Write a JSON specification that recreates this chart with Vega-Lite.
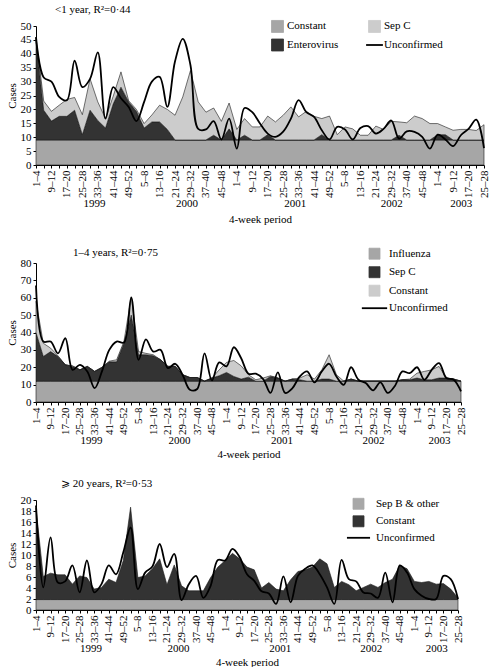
{
  "$schema": "https://vega.github.io/schema/vega-lite/v6.json",
  "padding": {"left": 6, "top": 4, "right": 0, "bottom": 0},
  "background": "white",
  "bounds": "flush",
  "spacing": 98,
  "datasets": {
    "p1": [
      {"t":0,"Constant":9,"Enterovirus":36,"Sep C":1,"Unconfirmed":46},
      {"t":1,"Constant":9,"Enterovirus":10.7,"Sep C":3.3,"Unconfirmed":31.5},
      {"t":2,"Constant":9,"Enterovirus":6.8,"Sep C":3.5,"Unconfirmed":30},
      {"t":3,"Constant":9,"Enterovirus":8.5,"Sep C":4,"Unconfirmed":24.5},
      {"t":4,"Constant":9,"Enterovirus":8.5,"Sep C":6.1,"Unconfirmed":23.3},
      {"t":5,"Constant":9,"Enterovirus":10.7,"Sep C":4.6,"Unconfirmed":37.5},
      {"t":6,"Constant":9,"Enterovirus":1.9,"Sep C":7.2,"Unconfirmed":28},
      {"t":7,"Constant":9,"Enterovirus":10.7,"Sep C":11.3,"Unconfirmed":31},
      {"t":8,"Constant":9,"Enterovirus":7,"Sep C":6.7,"Unconfirmed":40.5},
      {"t":9,"Constant":9,"Enterovirus":4.3,"Sep C":3.4,"Unconfirmed":16.7},
      {"t":10,"Constant":9,"Enterovirus":13,"Sep C":2.8,"Unconfirmed":28},
      {"t":11,"Constant":9,"Enterovirus":19,"Sep C":5.5,"Unconfirmed":24},
      {"t":12,"Constant":9,"Enterovirus":13.7,"Sep C":0.4,"Unconfirmed":20.9},
      {"t":13,"Constant":9,"Enterovirus":10.3,"Sep C":0.7,"Unconfirmed":15.8},
      {"t":14,"Constant":9,"Enterovirus":4.3,"Sep C":1.6,"Unconfirmed":22.7},
      {"t":15,"Constant":9,"Enterovirus":6.5,"Sep C":2.5,"Unconfirmed":30},
      {"t":16,"Constant":9,"Enterovirus":6.5,"Sep C":6,"Unconfirmed":31.7},
      {"t":17,"Constant":9,"Enterovirus":3.8,"Sep C":7.2,"Unconfirmed":20.9},
      {"t":18,"Constant":9,"Enterovirus":0,"Sep C":8.9,"Unconfirmed":37.3},
      {"t":19,"Constant":9,"Enterovirus":0,"Sep C":15.5,"Unconfirmed":45.4},
      {"t":20,"Constant":9,"Enterovirus":0,"Sep C":25,"Unconfirmed":35.9},
      {"t":21,"Constant":9,"Enterovirus":0,"Sep C":13.7,"Unconfirmed":13},
      {"t":22,"Constant":9,"Enterovirus":0,"Sep C":10,"Unconfirmed":12.8},
      {"t":23,"Constant":9,"Enterovirus":1.7,"Sep C":9.8,"Unconfirmed":15.8},
      {"t":24,"Constant":9,"Enterovirus":0,"Sep C":6.7,"Unconfirmed":9.2},
      {"t":25,"Constant":9,"Enterovirus":4,"Sep C":9.3,"Unconfirmed":16.7},
      {"t":26,"Constant":9,"Enterovirus":0,"Sep C":3.8,"Unconfirmed":5.9},
      {"t":27,"Constant":9,"Enterovirus":1.7,"Sep C":6,"Unconfirmed":20.5},
      {"t":28,"Constant":9,"Enterovirus":0,"Sep C":4.7,"Unconfirmed":19},
      {"t":29,"Constant":9,"Enterovirus":0,"Sep C":4.7,"Unconfirmed":14.9},
      {"t":30,"Constant":9,"Enterovirus":1.9,"Sep C":6.7,"Unconfirmed":11.3},
      {"t":31,"Constant":9,"Enterovirus":0,"Sep C":6.5,"Unconfirmed":10.1},
      {"t":32,"Constant":9,"Enterovirus":0,"Sep C":8.9,"Unconfirmed":12},
      {"t":33,"Constant":9,"Enterovirus":0,"Sep C":11.9,"Unconfirmed":16.7},
      {"t":34,"Constant":9,"Enterovirus":0,"Sep C":8.3,"Unconfirmed":23.3},
      {"t":35,"Constant":9,"Enterovirus":0,"Sep C":10.3,"Unconfirmed":19},
      {"t":36,"Constant":9,"Enterovirus":0,"Sep C":8.5,"Unconfirmed":17.3},
      {"t":37,"Constant":9,"Enterovirus":1.9,"Sep C":5.8,"Unconfirmed":12.5},
      {"t":38,"Constant":9,"Enterovirus":0,"Sep C":8.6,"Unconfirmed":9.2},
      {"t":39,"Constant":9,"Enterovirus":0,"Sep C":1.9,"Unconfirmed":13.7},
      {"t":40,"Constant":9,"Enterovirus":0,"Sep C":4.7,"Unconfirmed":12.8},
      {"t":41,"Constant":9,"Enterovirus":0,"Sep C":4,"Unconfirmed":9.2},
      {"t":42,"Constant":9,"Enterovirus":0,"Sep C":1.7,"Unconfirmed":13.3},
      {"t":43,"Constant":9,"Enterovirus":0,"Sep C":1.7,"Unconfirmed":14},
      {"t":44,"Constant":9,"Enterovirus":0,"Sep C":5,"Unconfirmed":11.3},
      {"t":45,"Constant":9,"Enterovirus":0,"Sep C":3.8,"Unconfirmed":13},
      {"t":46,"Constant":9,"Enterovirus":0,"Sep C":6.7,"Unconfirmed":16},
      {"t":47,"Constant":9,"Enterovirus":1.7,"Sep C":4.8,"Unconfirmed":9.5},
      {"t":48,"Constant":9,"Enterovirus":0,"Sep C":6.2,"Unconfirmed":12.1},
      {"t":49,"Constant":9,"Enterovirus":0,"Sep C":8.6,"Unconfirmed":11.9},
      {"t":50,"Constant":9,"Enterovirus":0,"Sep C":7.7,"Unconfirmed":10.1},
      {"t":51,"Constant":9,"Enterovirus":0,"Sep C":5.9,"Unconfirmed":5.9},
      {"t":52,"Constant":9,"Enterovirus":1.9,"Sep C":4,"Unconfirmed":10.9},
      {"t":53,"Constant":9,"Enterovirus":1.9,"Sep C":2.8,"Unconfirmed":9.2},
      {"t":54,"Constant":9,"Enterovirus":0,"Sep C":3.5,"Unconfirmed":6.8},
      {"t":55,"Constant":9,"Enterovirus":0,"Sep C":3.8,"Unconfirmed":10.7},
      {"t":56,"Constant":9,"Enterovirus":0,"Sep C":3.8,"Unconfirmed":13},
      {"t":57,"Constant":9,"Enterovirus":0,"Sep C":3.4,"Unconfirmed":16.3},
      {"t":58,"Constant":9,"Enterovirus":0,"Sep C":5.5,"Unconfirmed":6.1}
    ],
    "p2": [
      {"t":0,"Influenza":12,"Sep C":28,"Constant":18,"Unconfirmed":67},
      {"t":1,"Influenza":12,"Sep C":14.2,"Constant":7.6,"Unconfirmed":34.8},
      {"t":2,"Influenza":12,"Sep C":17,"Constant":2,"Unconfirmed":34.8},
      {"t":3,"Influenza":12,"Sep C":14.2,"Constant":0.4,"Unconfirmed":28},
      {"t":4,"Influenza":12,"Sep C":9.4,"Constant":0,"Unconfirmed":36.7},
      {"t":5,"Influenza":12,"Sep C":8.5,"Constant":0.3,"Unconfirmed":18.5},
      {"t":6,"Influenza":12,"Sep C":6.5,"Constant":0,"Unconfirmed":21.4},
      {"t":7,"Influenza":12,"Sep C":8.5,"Constant":0,"Unconfirmed":17.6},
      {"t":8,"Influenza":12,"Sep C":5.6,"Constant":0,"Unconfirmed":8},
      {"t":9,"Influenza":12,"Sep C":7.9,"Constant":0,"Unconfirmed":17.6},
      {"t":10,"Influenza":12,"Sep C":11.1,"Constant":0.4,"Unconfirmed":30},
      {"t":11,"Influenza":12,"Sep C":11.1,"Constant":1.2,"Unconfirmed":34.8},
      {"t":12,"Influenza":12,"Sep C":21.8,"Constant":1,"Unconfirmed":34.2},
      {"t":13,"Influenza":12,"Sep C":38,"Constant":10.6,"Unconfirmed":60},
      {"t":14,"Influenza":12,"Sep C":15.2,"Constant":1.8,"Unconfirmed":24.3},
      {"t":15,"Influenza":12,"Sep C":15.2,"Constant":0.8,"Unconfirmed":36.1},
      {"t":16,"Influenza":12,"Sep C":14.6,"Constant":0.6,"Unconfirmed":29},
      {"t":17,"Influenza":12,"Sep C":12.3,"Constant":0,"Unconfirmed":30},
      {"t":18,"Influenza":12,"Sep C":8.5,"Constant":0,"Unconfirmed":19.5},
      {"t":19,"Influenza":12,"Sep C":8.5,"Constant":0,"Unconfirmed":22},
      {"t":20,"Influenza":12,"Sep C":3.7,"Constant":0,"Unconfirmed":15.7},
      {"t":21,"Influenza":12,"Sep C":2.1,"Constant":0,"Unconfirmed":7.1},
      {"t":22,"Influenza":12,"Sep C":2.1,"Constant":0,"Unconfirmed":7.5},
      {"t":23,"Influenza":12,"Sep C":0,"Constant":0,"Unconfirmed":28},
      {"t":24,"Influenza":12,"Sep C":1.8,"Constant":0,"Unconfirmed":12.4},
      {"t":25,"Influenza":12,"Sep C":3.1,"Constant":3.4,"Unconfirmed":22.8},
      {"t":26,"Influenza":12,"Sep C":5,"Constant":5.8,"Unconfirmed":20.5},
      {"t":27,"Influenza":12,"Sep C":2.7,"Constant":9.2,"Unconfirmed":31.5},
      {"t":28,"Influenza":12,"Sep C":1.2,"Constant":7.6,"Unconfirmed":25.2},
      {"t":29,"Influenza":12,"Sep C":2.3,"Constant":1.4,"Unconfirmed":16.3},
      {"t":30,"Influenza":12,"Sep C":0,"Constant":0.8,"Unconfirmed":16.3},
      {"t":31,"Influenza":12,"Sep C":0,"Constant":1.8,"Unconfirmed":13.2},
      {"t":32,"Influenza":12,"Sep C":2.7,"Constant":0.4,"Unconfirmed":5.2},
      {"t":33,"Influenza":12,"Sep C":1.8,"Constant":0,"Unconfirmed":17},
      {"t":34,"Influenza":12,"Sep C":0,"Constant":0,"Unconfirmed":5.2},
      {"t":35,"Influenza":12,"Sep C":1.2,"Constant":0,"Unconfirmed":8},
      {"t":36,"Influenza":12,"Sep C":0.8,"Constant":1,"Unconfirmed":14.7},
      {"t":37,"Influenza":12,"Sep C":0,"Constant":3.7,"Unconfirmed":17.6},
      {"t":38,"Influenza":12,"Sep C":0,"Constant":1.2,"Unconfirmed":11.3},
      {"t":39,"Influenza":12,"Sep C":1.2,"Constant":5.3,"Unconfirmed":17.6},
      {"t":40,"Influenza":12,"Sep C":1.2,"Constant":14,"Unconfirmed":22},
      {"t":41,"Influenza":12,"Sep C":0,"Constant":3.7,"Unconfirmed":14.7},
      {"t":42,"Influenza":12,"Sep C":0,"Constant":0,"Unconfirmed":9.9},
      {"t":43,"Influenza":12,"Sep C":1.2,"Constant":0,"Unconfirmed":20},
      {"t":44,"Influenza":12,"Sep C":0,"Constant":0,"Unconfirmed":12.8},
      {"t":45,"Influenza":12,"Sep C":0,"Constant":0,"Unconfirmed":10.9},
      {"t":46,"Influenza":12,"Sep C":0,"Constant":0,"Unconfirmed":6.7},
      {"t":47,"Influenza":12,"Sep C":0,"Constant":0,"Unconfirmed":11.3},
      {"t":48,"Influenza":12,"Sep C":0,"Constant":0,"Unconfirmed":5.2},
      {"t":49,"Influenza":12,"Sep C":0,"Constant":0,"Unconfirmed":9.4},
      {"t":50,"Influenza":12,"Sep C":0.8,"Constant":0,"Unconfirmed":17.6},
      {"t":51,"Influenza":12,"Sep C":0.8,"Constant":0.4,"Unconfirmed":16.6},
      {"t":52,"Influenza":12,"Sep C":1.8,"Constant":2.8,"Unconfirmed":20},
      {"t":53,"Influenza":12,"Sep C":0.8,"Constant":4.8,"Unconfirmed":12.8},
      {"t":54,"Influenza":12,"Sep C":0.8,"Constant":5.7,"Unconfirmed":18.5},
      {"t":55,"Influenza":12,"Sep C":1.8,"Constant":6.7,"Unconfirmed":22.4},
      {"t":56,"Influenza":12,"Sep C":1.8,"Constant":0,"Unconfirmed":13.8},
      {"t":57,"Influenza":12,"Sep C":1.2,"Constant":0,"Unconfirmed":12.8},
      {"t":58,"Influenza":12,"Sep C":0,"Constant":0,"Unconfirmed":6.1}
    ],
    "p2order": [
      {"series": "Influenza", "rank": 1},
      {"series": "Sep C", "rank": 2},
      {"series": "Constant", "rank": 3}
    ],
    "p3": [
      {"t":0,"Sep B & other":1.9,"Constant":16.6,"Unconfirmed":19},
      {"t":1,"Sep B & other":1.9,"Constant":4.2,"Unconfirmed":4.1},
      {"t":2,"Sep B & other":1.9,"Constant":4.8,"Unconfirmed":13.2},
      {"t":3,"Sep B & other":1.9,"Constant":4.5,"Unconfirmed":5},
      {"t":4,"Sep B & other":1.9,"Constant":4.5,"Unconfirmed":5.2},
      {"t":5,"Sep B & other":1.9,"Constant":2.8,"Unconfirmed":8.1},
      {"t":6,"Sep B & other":1.9,"Constant":4.3,"Unconfirmed":3.2},
      {"t":7,"Sep B & other":1.9,"Constant":4,"Unconfirmed":9},
      {"t":8,"Sep B & other":1.9,"Constant":1.9,"Unconfirmed":3.2},
      {"t":9,"Sep B & other":1.9,"Constant":2.2,"Unconfirmed":4.7},
      {"t":10,"Sep B & other":1.9,"Constant":3.7,"Unconfirmed":8.1},
      {"t":11,"Sep B & other":1.9,"Constant":3.1,"Unconfirmed":6.5},
      {"t":12,"Sep B & other":1.9,"Constant":7.1,"Unconfirmed":10.5},
      {"t":13,"Sep B & other":1.9,"Constant":16.8,"Unconfirmed":15},
      {"t":14,"Sep B & other":1.9,"Constant":4,"Unconfirmed":3.8},
      {"t":15,"Sep B & other":1.9,"Constant":4.3,"Unconfirmed":6.8},
      {"t":16,"Sep B & other":1.9,"Constant":5.6,"Unconfirmed":7.9},
      {"t":17,"Sep B & other":1.9,"Constant":7.4,"Unconfirmed":12},
      {"t":18,"Sep B & other":1.9,"Constant":2.7,"Unconfirmed":7.8},
      {"t":19,"Sep B & other":1.9,"Constant":6.3,"Unconfirmed":10.2},
      {"t":20,"Sep B & other":1.9,"Constant":2.5,"Unconfirmed":1.8},
      {"t":21,"Sep B & other":1.9,"Constant":1.6,"Unconfirmed":4.7},
      {"t":22,"Sep B & other":1.9,"Constant":1.6,"Unconfirmed":6.2},
      {"t":23,"Sep B & other":1.9,"Constant":1.6,"Unconfirmed":2.2},
      {"t":24,"Sep B & other":1.9,"Constant":4,"Unconfirmed":4.4},
      {"t":25,"Sep B & other":1.9,"Constant":5.9,"Unconfirmed":9.1},
      {"t":26,"Sep B & other":1.9,"Constant":7.1,"Unconfirmed":9},
      {"t":27,"Sep B & other":1.9,"Constant":8.4,"Unconfirmed":11.1},
      {"t":28,"Sep B & other":1.9,"Constant":7.4,"Unconfirmed":9.6},
      {"t":29,"Sep B & other":1.9,"Constant":5.9,"Unconfirmed":6.5},
      {"t":30,"Sep B & other":1.9,"Constant":5.4,"Unconfirmed":5.3},
      {"t":31,"Sep B & other":1.9,"Constant":2.1,"Unconfirmed":3.4},
      {"t":32,"Sep B & other":1.9,"Constant":3.1,"Unconfirmed":3},
      {"t":33,"Sep B & other":1.9,"Constant":1.9,"Unconfirmed":1.1},
      {"t":34,"Sep B & other":1.9,"Constant":1.6,"Unconfirmed":6.1},
      {"t":35,"Sep B & other":1.9,"Constant":3.6,"Unconfirmed":1.4},
      {"t":36,"Sep B & other":1.9,"Constant":5.1,"Unconfirmed":6.2},
      {"t":37,"Sep B & other":1.9,"Constant":5.4,"Unconfirmed":7.5},
      {"t":38,"Sep B & other":1.9,"Constant":5.9,"Unconfirmed":8.1},
      {"t":39,"Sep B & other":1.9,"Constant":7.4,"Unconfirmed":6.5},
      {"t":40,"Sep B & other":1.9,"Constant":6.5,"Unconfirmed":4.1},
      {"t":41,"Sep B & other":1.9,"Constant":2.2,"Unconfirmed":1.1},
      {"t":42,"Sep B & other":1.9,"Constant":3.3,"Unconfirmed":9.1},
      {"t":43,"Sep B & other":1.9,"Constant":2.7,"Unconfirmed":5.6},
      {"t":44,"Sep B & other":1.9,"Constant":1.6,"Unconfirmed":5.2},
      {"t":45,"Sep B & other":1.9,"Constant":2.2,"Unconfirmed":3.2},
      {"t":46,"Sep B & other":1.9,"Constant":2.8,"Unconfirmed":3},
      {"t":47,"Sep B & other":1.9,"Constant":2.2,"Unconfirmed":2.2},
      {"t":48,"Sep B & other":1.9,"Constant":3.1,"Unconfirmed":6.8},
      {"t":49,"Sep B & other":1.9,"Constant":3.7,"Unconfirmed":1.4},
      {"t":50,"Sep B & other":1.9,"Constant":6.2,"Unconfirmed":8.1},
      {"t":51,"Sep B & other":1.9,"Constant":5.6,"Unconfirmed":6.8},
      {"t":52,"Sep B & other":1.9,"Constant":3.3,"Unconfirmed":3.8},
      {"t":53,"Sep B & other":1.9,"Constant":3.1,"Unconfirmed":2.6},
      {"t":54,"Sep B & other":1.9,"Constant":3.3,"Unconfirmed":2},
      {"t":55,"Sep B & other":1.9,"Constant":2.8,"Unconfirmed":2},
      {"t":56,"Sep B & other":1.9,"Constant":2.9,"Unconfirmed":6.2},
      {"t":57,"Sep B & other":1.9,"Constant":1.9,"Unconfirmed":5.6},
      {"t":58,"Sep B & other":1.9,"Constant":0.3,"Unconfirmed":2}
    ]
  },
  "config": {
    "font": "Liberation Serif, DejaVu Serif, serif",
    "view": {"stroke": null},
    "axis": {
      "labelFont": "Liberation Serif, DejaVu Serif, serif", "titleFont": "Liberation Serif, DejaVu Serif, serif",
      "labelFontSize": 11, "titleFontSize": 11, "titleFontWeight": "normal",
      "labelColor": "#000", "titleColor": "#000", "domainColor": "#000", "tickColor": "#000",
      "grid": false, "tickSize": 3, "labelPadding": 2, "labelOverlap": false
    },
    "title": {"font": "Liberation Serif, DejaVu Serif, serif", "fontSize": 11, "fontWeight": "normal", "color": "#000"},
    "legend": {
      "labelFont": "Liberation Serif, DejaVu Serif, serif", "labelFontSize": 11, "labelColor": "#000",
      "title": null, "orient": "none", "padding": 0, "symbolType": "square",
      "symbolStrokeColor": "#222", "symbolStrokeWidth": 0.8, "labelLimit": 200
    }
  },
  "resolve": {"scale": {"color": "independent"}, "legend": {"color": "independent"}},
  "vconcat": [
    {
      "width": 448, "height": 139,
      "title": {"text": "<1 year, R²=0·44", "anchor": "start", "dx": 19, "offset": 5, "frame": "group"},
      "data": {"name": "p1"},
      "layer": [
        {
          "transform": [{"fold": ["Constant", "Enterovirus", "Sep C"], "as": ["series", "cases"]}],
          "mark": {"type": "area", "stroke": "#1a1a1a", "strokeWidth": 0.6},
          "encoding": {
            "x": {"field": "t", "type": "quantitative", "scale": {"domain": [0, 58], "nice": false, "zero": false},
              "axis": {"title": null, "values": [0,1,2,3,4,5,6,7,8,9,10,11,12,13,14,15,16,17,18,19,20,21,22,23,24,25,26,27,28,29,30,31,32,33,34,35,36,37,38,39,40,41,42,43,44,45,46,47,48,49,50,51,52,53,54,55,56,57,58],
                "labelExpr": "datum.value % 2 == 0 ? ((datum.value % 13) * 4 + 1) + '–' + ((datum.value % 13) * 4 + 4) : ''",
                "labelAngle": 270, "labelFlush": false}},
            "y": {"field": "cases", "type": "quantitative", "stack": "zero", "scale": {"domain": [0, 50], "nice": false},
              "axis": {"title": "Cases", "values": [0,5,10,15,20,25,30,35,40,45,50], "titlePadding": 3, "labelOverlap": false}},
            "color": {"field": "series", "type": "nominal",
              "scale": {"domain": ["Constant", "Enterovirus", "Sep C", "Unconfirmed"], "range": ["#a6a6a6", "#333333", "#cccccc", "#000000"]},
              "legend": {"legendX": 236, "legendY": -5.5, "columns": 2, "columnPadding": 23, "rowPadding": 2, "labelOffset": 4, "symbolSize": 144,
                "encode": {"symbols": {"update": {
                  "shape": {"signal": "datum.value === 'Unconfirmed' ? 'M-1.4,0H1.4' : 'square'"},
                  "stroke": {"value": "#111"},
                  "strokeWidth": {"signal": "datum.value === 'Unconfirmed' ? 1.8 : 0.8"}}}}}},
            "order": {"field": "series", "sort": "ascending"}
          }
        },
        {
          "mark": {"type": "line", "interpolate": "catmull-rom", "strokeWidth": 1.8},
          "encoding": {
            "x": {"field": "t", "type": "quantitative",
              "axis": {"orient": "bottom", "offset": 32, "values": [7.5, 19.5, 33.5, 46, 55], "domain": false, "ticks": false, "labelPadding": 0,
                "labelExpr": "datum.value < 13 ? '1999' : datum.value < 26 ? '2000' : datum.value < 39 ? '2001' : datum.value < 52 ? '2002' : '2003'",
                "title": "4-week period", "titlePadding": 5.5}},
            "y": {"field": "Unconfirmed", "type": "quantitative",
              "axis": {"title": "Cases", "values": [0,5,10,15,20,25,30,35,40,45,50], "titlePadding": 3, "labelOverlap": false}},
            "color": {"datum": "Unconfirmed"}
          }
        }
      ],
      "resolve": {"axis": {"x": "independent"}}
    },
    {
      "width": 425, "height": 139,
      "title": {"text": "1–4 years, R²=0·75", "anchor": "start", "dx": 37, "offset": -9.3, "frame": "group"},
      "data": {"name": "p2"},
      "layer": [
        {
          "transform": [
            {"fold": ["Influenza", "Sep C", "Constant"], "as": ["series", "cases"]},
            {"lookup": "series", "from": {"data": {"name": "p2order"}, "key": "series", "fields": ["rank"]}}
          ],
          "mark": {"type": "area", "stroke": "#1a1a1a", "strokeWidth": 0.6},
          "encoding": {
            "x": {"field": "t", "type": "quantitative", "scale": {"domain": [0, 58], "nice": false, "zero": false},
              "axis": {"title": null, "values": [0,1,2,3,4,5,6,7,8,9,10,11,12,13,14,15,16,17,18,19,20,21,22,23,24,25,26,27,28,29,30,31,32,33,34,35,36,37,38,39,40,41,42,43,44,45,46,47,48,49,50,51,52,53,54,55,56,57,58],
                "labelExpr": "datum.value % 2 == 0 ? ((datum.value % 13) * 4 + 1) + '–' + ((datum.value % 13) * 4 + 4) : ''",
                "labelAngle": 270, "labelFlush": false}},
            "y": {"field": "cases", "type": "quantitative", "stack": "zero", "scale": {"domain": [0, 80], "nice": false},
              "axis": {"title": "Cases", "values": [0,10,20,30,40,50,60,70,80], "titlePadding": 3, "labelOverlap": false}},
            "color": {"field": "series", "type": "nominal",
              "scale": {"domain": ["Influenza", "Sep C", "Constant", "Unconfirmed"], "range": ["#a6a6a6", "#333333", "#cccccc", "#000000"]},
              "legend": {"legendX": 333, "legendY": -14.8, "rowPadding": 3.5, "labelOffset": 9, "symbolSize": 121,
                "encode": {"symbols": {"update": {
                  "shape": {"signal": "datum.value === 'Unconfirmed' ? 'M-2.3,0H2.3' : 'square'"},
                  "stroke": {"value": "#111"},
                  "strokeWidth": {"signal": "datum.value === 'Unconfirmed' ? 1.8 : 0.8"}}}}}},
            "order": {"field": "rank", "type": "quantitative", "sort": "ascending"}
          }
        },
        {
          "mark": {"type": "line", "interpolate": "catmull-rom", "strokeWidth": 1.8},
          "encoding": {
            "x": {"field": "t", "type": "quantitative",
              "axis": {"orient": "bottom", "offset": 32, "values": [7.5, 19.5, 33.5, 46, 55], "domain": false, "ticks": false, "labelPadding": 0,
                "labelExpr": "datum.value < 13 ? '1999' : datum.value < 26 ? '2000' : datum.value < 39 ? '2001' : datum.value < 52 ? '2002' : '2003'",
                "title": "4-week period", "titlePadding": 3}},
            "y": {"field": "Unconfirmed", "type": "quantitative",
              "axis": {"title": "Cases", "values": [0,10,20,30,40,50,60,70,80], "titlePadding": 3, "labelOverlap": false}},
            "color": {"datum": "Unconfirmed"}
          }
        }
      ],
      "resolve": {"axis": {"x": "independent"}}
    },
    {
      "width": 422, "height": 110,
      "title": {"text": "⩾ 20 years, R²=0·53", "anchor": "start", "dx": 25, "offset": 4.8, "frame": "group"},
      "data": {"name": "p3"},
      "layer": [
        {
          "transform": [{"fold": ["Sep B & other", "Constant"], "as": ["series", "cases"]}],
          "mark": {"type": "area", "stroke": "#1a1a1a", "strokeWidth": 0.6},
          "encoding": {
            "x": {"field": "t", "type": "quantitative", "scale": {"domain": [0, 58], "nice": false, "zero": false},
              "axis": {"title": null, "values": [0,1,2,3,4,5,6,7,8,9,10,11,12,13,14,15,16,17,18,19,20,21,22,23,24,25,26,27,28,29,30,31,32,33,34,35,36,37,38,39,40,41,42,43,44,45,46,47,48,49,50,51,52,53,54,55,56,57,58],
                "labelExpr": "datum.value % 2 == 0 ? ((datum.value % 13) * 4 + 1) + '–' + ((datum.value % 13) * 4 + 4) : ''",
                "labelAngle": 270, "labelFlush": false}},
            "y": {"field": "cases", "type": "quantitative", "stack": "zero", "scale": {"domain": [0, 20], "nice": false},
              "axis": {"title": "Cases", "values": [0,2,4,6,8,10,12,14,16,18,20], "titlePadding": 3, "labelOverlap": false}},
            "color": {"field": "series", "type": "nominal",
              "scale": {"domain": ["Sep B & other", "Constant", "Unconfirmed"], "range": ["#a8a8a8", "#333333", "#000000"]},
              "legend": {"legendX": 317, "legendY": -1.7, "rowPadding": 2.5, "labelOffset": 12, "symbolSize": 121,
                "encode": {"symbols": {"update": {
                  "shape": {"signal": "datum.value === 'Unconfirmed' ? 'M-2.1,0H2.1' : 'square'"},
                  "stroke": {"value": "#111"},
                  "strokeWidth": {"signal": "datum.value === 'Unconfirmed' ? 1.8 : 0.8"}}}}}},
            "order": {"field": "series", "sort": "descending"}
          }
        },
        {
          "mark": {"type": "line", "interpolate": "catmull-rom", "strokeWidth": 1.8},
          "encoding": {
            "x": {"field": "t", "type": "quantitative",
              "axis": {"orient": "bottom", "offset": 32, "values": [7.5, 19.5, 33.5, 46, 55], "domain": false, "ticks": false, "labelPadding": 0,
                "labelExpr": "datum.value < 13 ? '1999' : datum.value < 26 ? '2000' : datum.value < 39 ? '2001' : datum.value < 52 ? '2002' : '2003'",
                "title": "4-week period", "titlePadding": 3}},
            "y": {"field": "Unconfirmed", "type": "quantitative",
              "axis": {"title": "Cases", "values": [0,2,4,6,8,10,12,14,16,18,20], "titlePadding": 3, "labelOverlap": false}},
            "color": {"datum": "Unconfirmed"}
          }
        }
      ],
      "resolve": {"axis": {"x": "independent"}}
    }
  ]
}
